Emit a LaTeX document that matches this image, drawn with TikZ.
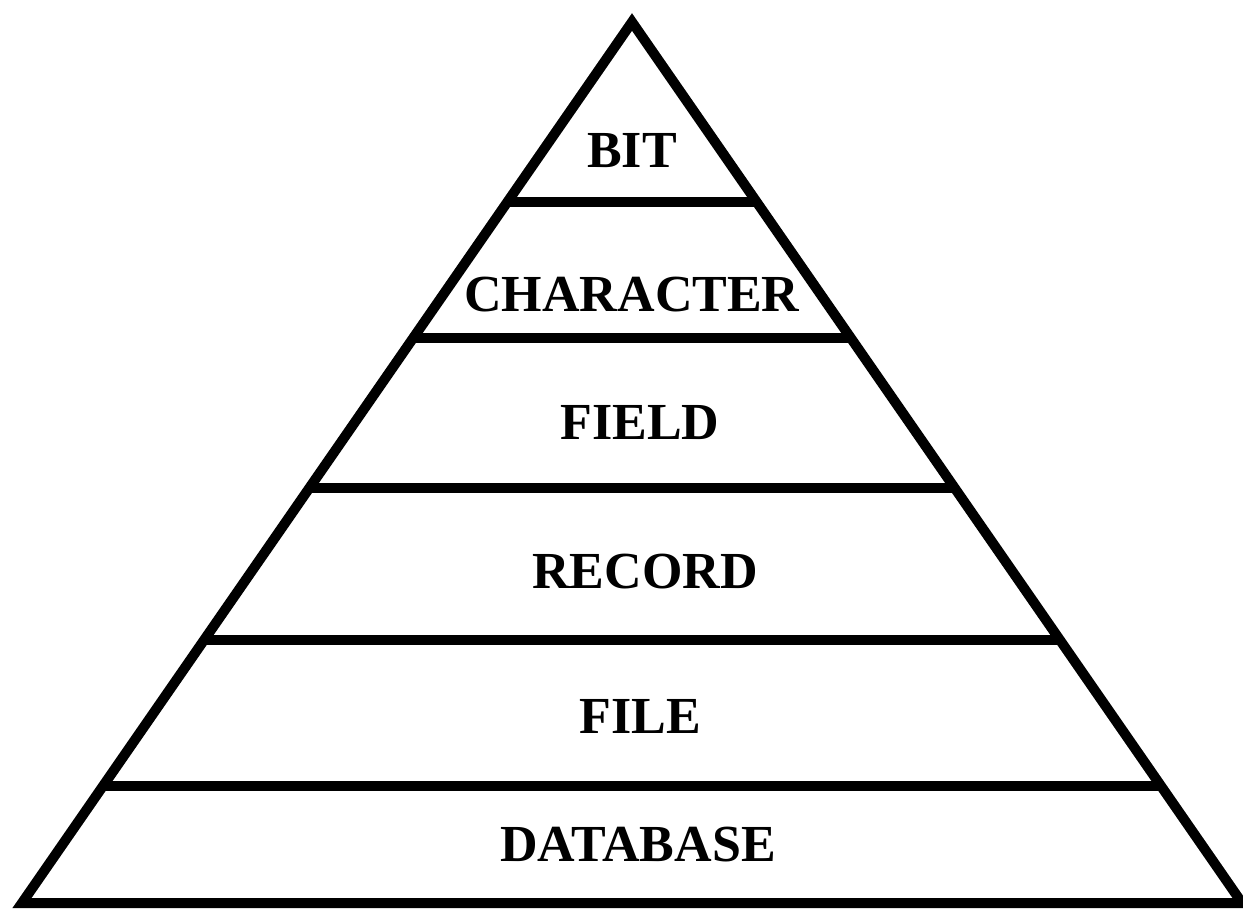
\documentclass[tikz,border=0pt]{standalone}
\usepackage{fontspec}
\setmainfont{Liberation Serif}
\usetikzlibrary{calc}
\tikzset{
	x=0.5pt, y=-0.5pt, % Unidades en pixeles
	nivel/.style={font=\bfseries\fontsize{26}{30}\selectfont}, % Texto de cada nivel
	borde/.style={line width=5pt, line join=miter} % Trazo grueso de la piramide
}

\begin{document}
\begin{tikzpicture}
	\clip (0,0) rectangle (1243,909);
	\coordinate (top) at (632,22);
	\coordinate (bl) at (22,903);
	\coordinate (br) at (1242,903);
	\draw[borde] (top) -- (bl) -- (br) -- cycle;
	\foreach \t [count=\i] in {0.2043, 0.3587, 0.5289, 0.7015, 0.8672} {
		\coordinate (l\i) at ($(top)!\t!(bl)$);
		\coordinate (r\i) at ($(top)!\t!(br)$);
		\draw[borde] (l\i) -- (r\i);
	}
	\node[nivel] (bit) at (632,151) {BIT};
	\node[nivel] (character) at (632,295) {CHARACTER};
	\node[nivel] (field) at (640,423) {FIELD};
	\node[nivel] (record) at (645,572) {RECORD};
	\node[nivel] (file) at (640,716) {FILE};
	\node[nivel] (database) at (638,845) {DATABASE};
\end{tikzpicture}
\end{document}
